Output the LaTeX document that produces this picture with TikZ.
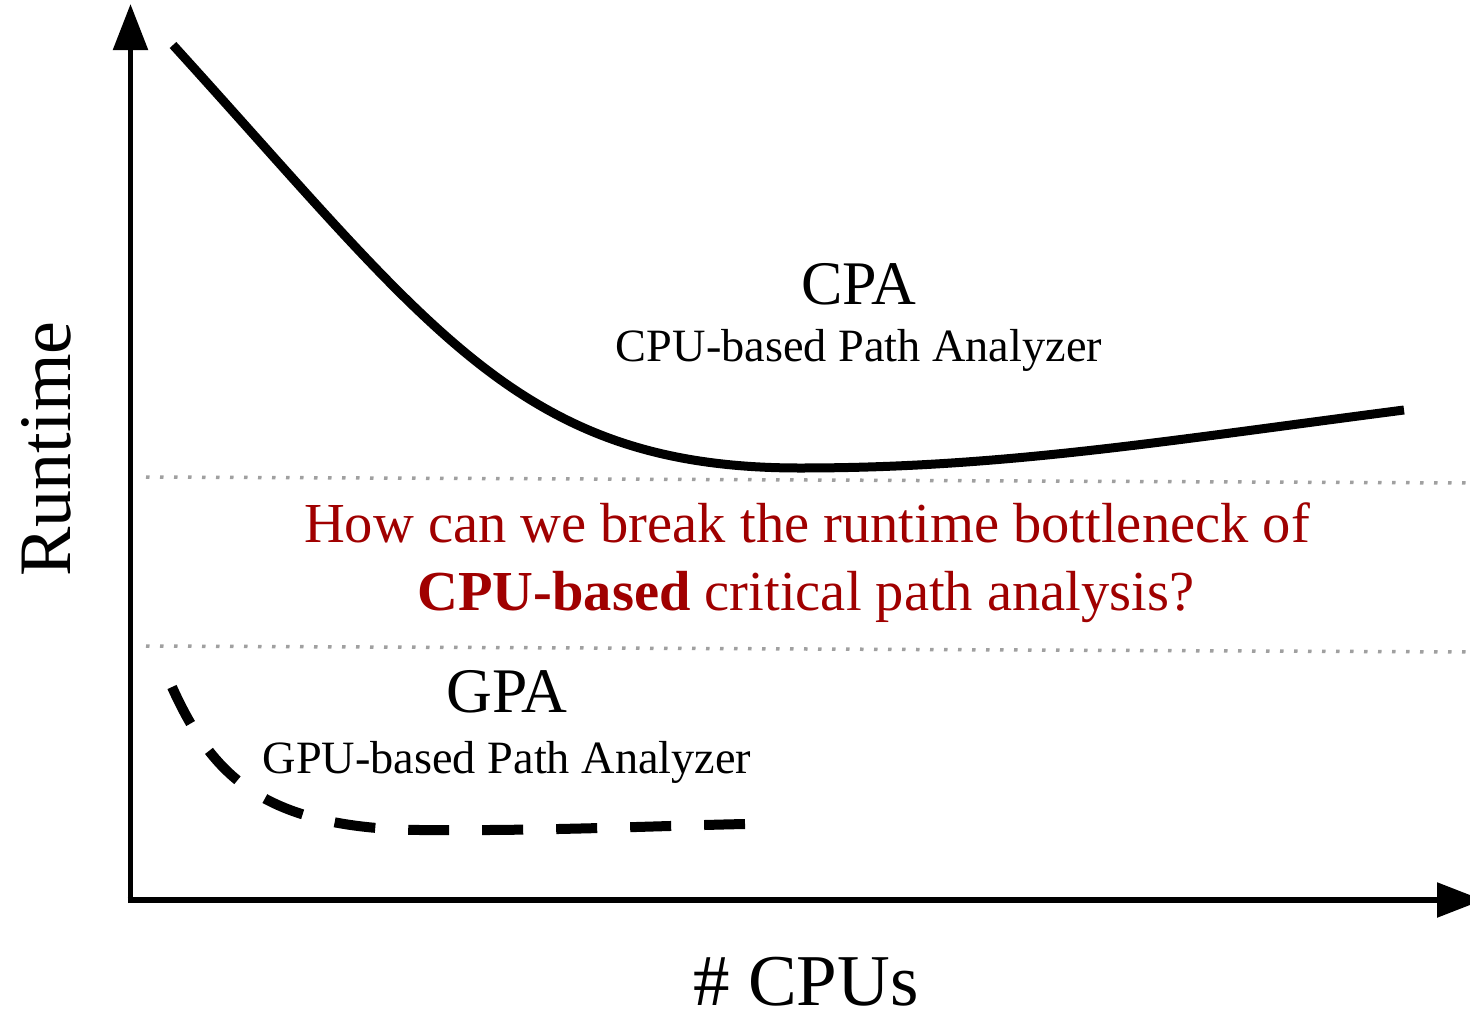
\documentclass[tikz,border=0pt]{standalone}
\usepackage{fontspec}
\setmainfont{Liberation Serif}
\usetikzlibrary{arrows.meta}
\definecolor{qred}{RGB}{160,0,0}
\definecolor{dotgray}{RGB}{160,160,160}
\newcommand\fsz[1]{\fontsize{#1}{#1}\selectfont}
\tikzset{
  axisline/.style={line width=5.5pt, -{Triangle[length=46pt 0 1,width=34pt 0 1]}},
  cpacurve/.style={line width=9pt},
  gpacurve/.style={line width=10pt, dash pattern=on 41pt off 33pt},
  guide/.style={dotgray, line width=3.5pt, dash pattern=on 3.5pt off 10.5pt},
  lbl/.style={anchor=base, inner sep=0pt},
}
\begin{document}
\begin{tikzpicture}[x=1pt,y=-1pt]
\clip (0,0) rectangle (1470,1017);
\fill[white] (0,0) rectangle (1470,1017);

% axes
\coordinate (origin) at (130.5,903);
\coordinate (ytip) at (130.5,4);
\coordinate (xstart) at (127.5,900);
\coordinate (xtip) at (1483,900);
\draw[axisline] (origin) -- (ytip);
\draw[axisline] (xstart) -- (xtip);

% dotted guide lines
\coordinate (g1a) at (146,477);
\coordinate (g1b) at (1470,483);
\coordinate (g2a) at (146,646);
\coordinate (g2b) at (1470,652);
\draw[guide] (g1a) -- (g1b);
\draw[guide] (g2a) -- (g2b);

% CPA runtime curve
\coordinate (cpastart) at (173,45);
\coordinate (cpamin) at (800,468);
\coordinate (cpaend) at (1404,410);
\draw[cpacurve] (cpastart) .. controls (433,331) and (520,468) .. (cpamin)
  .. controls (1000,468) and (1154,442.5) .. (cpaend);

% GPA runtime curve
\coordinate (gpastart) at (172,687);
\coordinate (gpamid) at (420,830);
\coordinate (gpaend) at (745,824);
\draw[gpacurve] (gpastart) .. controls (212,775) and (262,828) .. (gpamid)
  .. controls (550,831) and (650,826) .. (gpaend);

% labels
\node[lbl, font={\fsz{62}}] (cpa) at (859,304) {CPA};
\node[lbl, font={\fsz{46.3}}] (cpasub) at (859,361) {CPU-based Path Analyzer};
\node[lbl, font={\fsz{56.5}}, text=qred] (q1) at (807,542) {How can we break the runtime bottleneck of};
\node[lbl, font={\fsz{56.5}}, text=qred] (q2) at (806,610) {\textbf{CPU-based} critical path analysis?};
\node[lbl, font={\fsz{63.5}}] (gpa) at (507,712) {GPA};
\node[lbl, font={\fsz{46.3}}] (gpasub) at (507,773) {GPU-based Path Analyzer};
\node[lbl, font={\fsz{73}}] (xlabel) at (806,1005) {\# CPUs};
\node[lbl, font={\fsz{74}}, rotate=90] (ylabel) at (70,449) {Runtime};
\end{tikzpicture}
\end{document}
